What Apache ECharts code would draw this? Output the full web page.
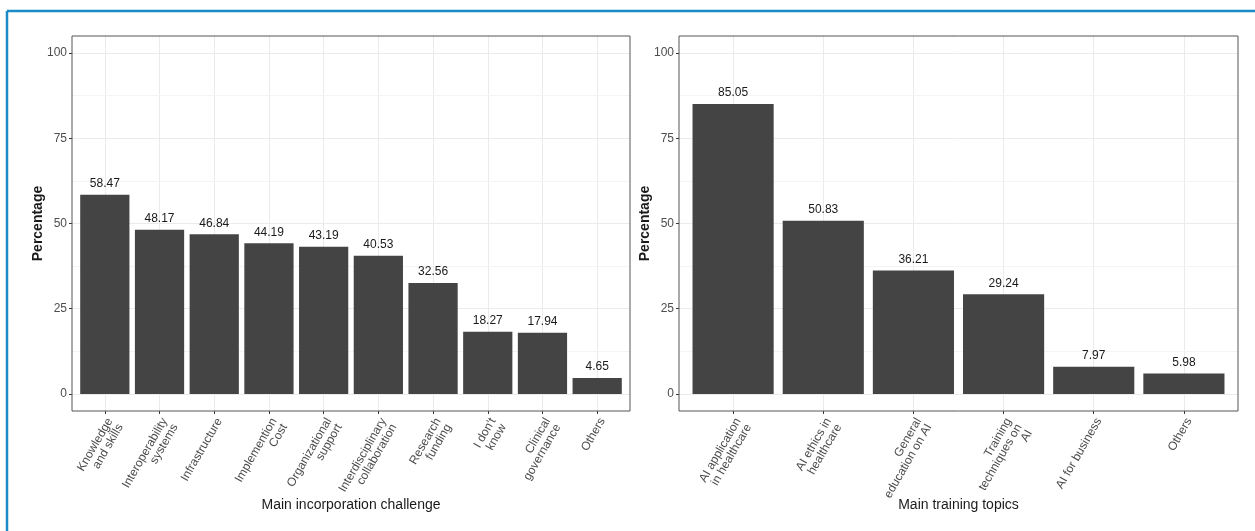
<!DOCTYPE html>
<html>
<head>
<meta charset="utf-8">
<script src="https://cdn.jsdelivr.net/npm/echarts@6/dist/echarts.min.js"></script>
<style>
  html, body { margin: 0; padding: 0; background: #fff; }
  #chart { width: 1255px; height: 531px; }
</style>
</head>
<body>
<div id="chart"></div>
<script>
// Left panel: barriers to incorporating AI
const challengeCategories = [
  'Knowledge\nand skills', 'Interoperability\nsystems', 'Infrastructure',
  'Implemention\nCost', 'Organizational\nsupport', 'Interdisciplinary\ncollaboration',
  'Research\nfunding', "I don't\nknow", 'Clinical\ngovernance', 'Others'
];
const challengeValues = [58.47, 48.17, 46.84, 44.19, 43.19, 40.53, 32.56, 18.27, 17.94, 4.65];

// Right panel: preferred training topics
const topicCategories = [
  'AI application\nin healthcare', 'AI ethics in\nhealthcare', 'General\neducation on AI',
  'Training\ntechniques on\nAI', 'AI for business', 'Others'
];
const topicValues = [85.05, 50.83, 36.21, 29.24, 7.97, 5.98];

const yTicks = [0, 25, 50, 75, 100];
const yMinorTicks = [12.5, 37.5, 62.5, 87.5];

const FONT = 'Liberation Sans, Arial, sans-serif';
const BAR = '#444444';
// discrete axes are padded by 0.6 of a category step on each side
const PAD = 0.6;

// Background grid (major + minor) drawn beneath the bars
function gridLines(categories) {
  const major = yTicks.map(v => ({ yAxis: v }))
    .concat(categories.map((c, i) => ({ xAxis: i })));
  const minor = yMinorTicks.map(v => ({ yAxis: v }));
  return [
    {
      type: 'line', data: [], z: 1, silent: true,
      markLine: {
        z: 1, silent: true, symbol: 'none', label: { show: false },
        lineStyle: { color: '#ebebeb', width: 1, type: 'solid' },
        data: major, animation: false
      }
    },
    {
      type: 'line', data: [], z: 1, silent: true,
      markLine: {
        z: 1, silent: true, symbol: 'none', label: { show: false },
        lineStyle: { color: '#f4f4f4', width: 1, type: 'solid' },
        data: minor, animation: false
      }
    }
  ];
}

function xAxisFor(idx, categories, title) {
  const positions = categories.map((c, i) => i);
  return {
    type: 'value', gridIndex: idx, min: -PAD, max: categories.length - 1 + PAD,
    axisLine: { show: false, onZero: false },
    axisTick: { show: true, inside: false, customValues: positions, length: 3, lineStyle: { color: '#333', width: 1 } },
    axisLabel: {
      customValues: positions, formatter: v => categories[Math.round(v)],
      rotate: 60, margin: 5, fontFamily: FONT, fontSize: 12,
      color: '#4d4d4d', lineHeight: 12, verticalAlign: 'top'
    },
    splitLine: { show: false },
    name: title, nameLocation: 'middle', nameGap: 87, nameMoveOverlap: false,
    nameTextStyle: { fontFamily: FONT, fontSize: 14, color: '#1a1a1a', verticalAlign: 'top' }
  };
}

function yAxisFor(idx) {
  return {
    type: 'value', gridIndex: idx, min: -5, max: 105,
    axisLine: { show: false, onZero: false },
    axisTick: { show: true, inside: false, length: 3, customValues: yTicks, lineStyle: { color: '#333', width: 1 } },
    axisLabel: { customValues: yTicks, fontFamily: FONT, fontSize: 12, color: '#4d4d4d', margin: 5 },
    splitLine: { show: false },
    name: 'Percentage', nameLocation: 'middle', nameGap: 27, nameMoveOverlap: false,
    nameTextStyle: { fontFamily: FONT, fontSize: 14, fontWeight: 'bold', color: '#1a1a1a' }
  };
}

function barSeries(idx, values) {
  return {
    type: 'bar', xAxisIndex: idx, yAxisIndex: idx, z: 3,
    data: values.map((v, i) => [i, v]),
    barWidth: '90%',
    itemStyle: { color: BAR },
    label: {
      show: true, position: 'top', distance: 5,
      fontFamily: FONT, fontSize: 12, color: '#1a1a1a',
      formatter: p => p.value[1].toFixed(2)
    }
  };
}

const leftGrid = gridLines(challengeCategories).map(s => Object.assign(s, { xAxisIndex: 0, yAxisIndex: 0 }));
const rightGrid = gridLines(topicCategories).map(s => Object.assign(s, { xAxisIndex: 1, yAxisIndex: 1 }));

const chart = echarts.init(document.getElementById('chart'), null, { renderer: 'canvas' });
chart.setOption({
  animation: false,
  backgroundColor: '#ffffff',
  grid: [
    { left: 72, right: 625, top: 36, bottom: 120, outerBoundsMode: 'none', show: true, borderColor: '#555', borderWidth: 1, backgroundColor: 'transparent', z: 4 },
    { left: 679, right: 17, top: 36, bottom: 120, outerBoundsMode: 'none', show: true, borderColor: '#555', borderWidth: 1, backgroundColor: 'transparent', z: 4 }
  ],
  xAxis: [
    xAxisFor(0, challengeCategories, 'Main incorporation challenge'),
    xAxisFor(1, topicCategories, 'Main training topics')
  ],
  yAxis: [yAxisFor(0), yAxisFor(1)],
  series: leftGrid.concat(rightGrid, [barSeries(0, challengeValues), barSeries(1, topicValues)]),
  graphic: [
    { type: 'line', shape: { x1: 7, y1: 11, x2: 1255, y2: 11 }, style: { stroke: '#1b8ac7', lineWidth: 2.5 } },
    { type: 'line', shape: { x1: 7, y1: 11, x2: 7, y2: 531 }, style: { stroke: '#1b8ac7', lineWidth: 2.5 } }
  ]
});
</script>
</body>
</html>
